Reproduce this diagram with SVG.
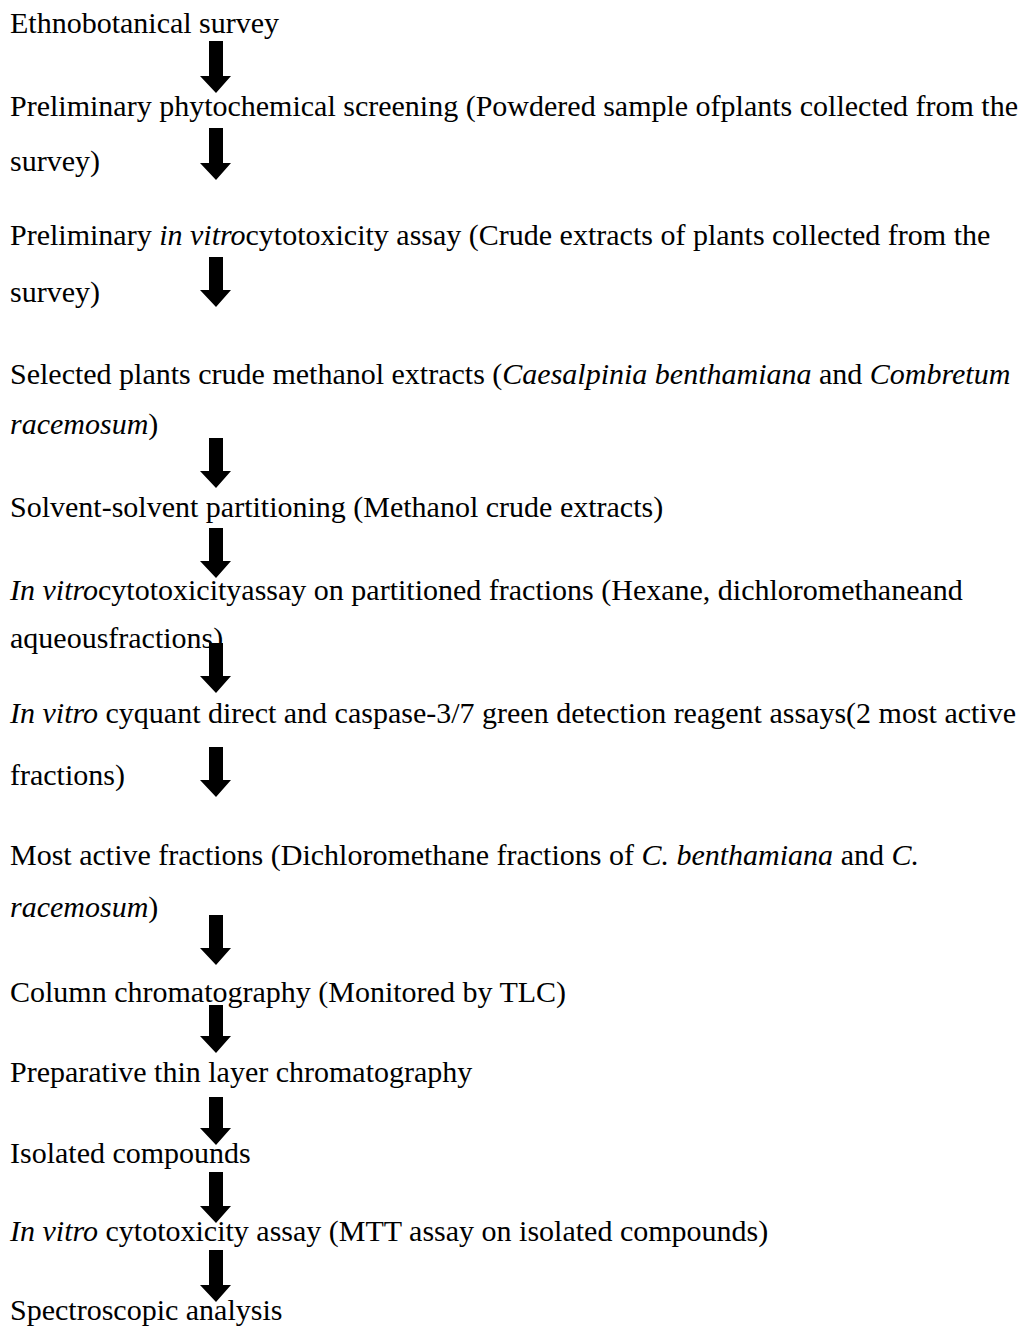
<svg xmlns="http://www.w3.org/2000/svg" width="1026" height="1329" viewBox="0 0 1026 1329">
<style>
text{font-family:"Liberation Serif","Times New Roman",serif;font-size:30px;fill:#000}
.i{font-style:italic}
.arr{fill:#000}
</style>
<rect width="1026" height="1329" fill="#fff"/>
<g id="n1"><text x="10" y="33">Ethnobotanical survey</text></g>
<g id="n2"><text x="10" y="116">Preliminary phytochemical screening (Powdered sample ofplants collected from the</text><text x="10" y="171">survey)</text></g>
<g id="n3"><text x="10" y="245">Preliminary <tspan class="i">in vitro</tspan>cytotoxicity assay (Crude extracts of plants collected from the</text><text x="10" y="302">survey)</text></g>
<g id="n4"><text x="10" y="384">Selected plants crude methanol extracts (<tspan class="i">Caesalpinia benthamiana</tspan> and <tspan class="i">Combretum</tspan></text><text x="10" y="434"><tspan class="i">racemosum</tspan>)</text></g>
<g id="n5"><text x="10" y="517">Solvent-solvent partitioning (Methanol crude extracts)</text></g>
<g id="n6"><text x="10" y="600"><tspan class="i">In vitro</tspan>cytotoxicityassay on partitioned fractions (Hexane, dichloromethaneand</text><text x="10" y="648">aqueousfractions)</text></g>
<g id="n7"><text x="10" y="723"><tspan class="i">In vitro</tspan> cyquant direct and caspase-3/7 green detection reagent assays(2 most active</text><text x="10" y="785">fractions)</text></g>
<g id="n8"><text x="10" y="865">Most active fractions (Dichloromethane fractions of <tspan class="i">C. benthamiana</tspan> and <tspan class="i">C.</tspan></text><text x="10" y="917"><tspan class="i">racemosum</tspan>)</text></g>
<g id="n9"><text x="10" y="1002">Column chromatography (Monitored by TLC)</text></g>
<g id="n10"><text x="10" y="1082">Preparative thin layer chromatography</text></g>
<g id="n11"><text x="10" y="1163">Isolated compounds</text></g>
<g id="n12"><text x="10" y="1241"><tspan class="i">In vitro</tspan> cytotoxicity assay (MTT assay on isolated compounds)</text></g>
<g id="n13"><text x="10" y="1320">Spectroscopic analysis</text></g>
<g id="connectors" class="arr">
<path d="M209,41H223V76H231L216,93L200,76H209Z"/>
<path d="M209,128H223V163H231L216,180L200,163H209Z"/>
<path d="M209,257H223V290H231L216,307L200,290H209Z"/>
<path d="M209,438H223V471H231L216,488L200,471H209Z"/>
<path d="M209,528H223V561H231L216,578L200,561H209Z"/>
<path d="M209,643H223V676H231L216,693L200,676H209Z"/>
<path d="M209,747H223V780H231L216,797L200,780H209Z"/>
<path d="M209,915H223V948H231L216,965L200,948H209Z"/>
<path d="M209,1005H223V1036H231L216,1053L200,1036H209Z"/>
<path d="M209,1097H223V1128H231L216,1145L200,1128H209Z"/>
<path d="M209,1172H223V1206H231L216,1223L200,1206H209Z"/>
<path d="M209,1250H223V1285H231L216,1302L200,1285H209Z"/>
</g>
</svg>
